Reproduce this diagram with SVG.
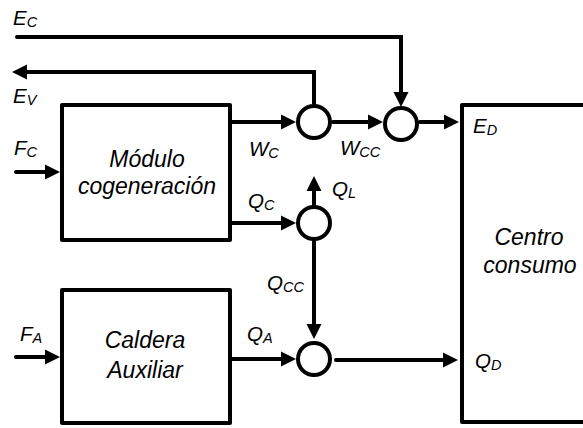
<svg xmlns="http://www.w3.org/2000/svg" width="583" height="428" viewBox="0 0 583 428">
<style>
  .box { fill: #fff; stroke: #000; stroke-width: 4; stroke-linejoin: round; }
  .junc { fill: #fff; stroke: #000; stroke-width: 4; }
  .conn { fill: none; stroke: #000; stroke-width: 4; stroke-linecap: round; stroke-linejoin: miter; marker-end: url(#arr); }
  .lbl { font-family: "Liberation Sans", Arial, sans-serif; font-style: italic; font-size: 20.5px; fill: #000; }
  .sub { font-size: 14.5px; }
  .body { font-family: "Liberation Sans", Arial, sans-serif; font-style: italic; font-size: 23px; fill: #000; text-anchor: middle; }
</style>
<defs>
  <marker id="arr" markerUnits="userSpaceOnUse" markerWidth="16" markerHeight="16" refX="4" refY="7.5" orient="auto" viewBox="0 0 16 15">
    <path d="M0,0 L15,7.5 L0,15 z" fill="#000"/>
  </marker>
</defs>
<rect width="583" height="428" fill="#fff"/>

<g id="connectors">
  <path id="c-ec" class="conn" d="M17,37 H401 V96"/>
  <path id="c-ev" class="conn" d="M314,104 V72 H23"/>
  <path id="c-fc" class="conn" d="M16,172 H49"/>
  <path id="c-wc" class="conn" d="M232,122 H285"/>
  <path id="c-wcc" class="conn" d="M333,122 H372"/>
  <path id="c-ed" class="conn" d="M420,122 H448"/>
  <path id="c-qc" class="conn" d="M232,223 H285"/>
  <path id="c-ql" class="conn" d="M314,205 V187"/>
  <path id="c-qcc" class="conn" d="M314,241 V328"/>
  <path id="c-qa" class="conn" d="M232,359 H285"/>
  <path id="c-qd" class="conn" d="M336,360 H447"/>
  <path id="c-fa" class="conn" d="M16,357 H49"/>
</g>

<g id="modulo">
  <rect class="box" x="62" y="105" width="168" height="135"/>
  <text class="body" x="147" y="167">Módulo</text>
  <text class="body" x="147" y="194">cogeneración</text>
</g>
<g id="caldera">
  <rect class="box" x="62" y="290" width="168" height="133"/>
  <text class="body" x="145" y="348">Caldera</text>
  <text class="body" x="145" y="378">Auxiliar</text>
</g>
<g id="centro">
  <rect class="box" x="462" y="105" width="150" height="317"/>
  <text class="body" x="529" y="245">Centro</text>
  <text class="body" x="530" y="273">consumo</text>
</g>

<g id="junction-w"><circle class="junc" cx="314" cy="122" r="16"/></g>
<g id="junction-e"><circle class="junc" cx="401" cy="124" r="16"/></g>
<g id="junction-qc"><circle class="junc" cx="314" cy="223" r="16"/></g>
<g id="junction-qd"><circle class="junc" cx="314" cy="359" r="16"/></g>

<g id="labels">
  <text class="lbl" x="13" y="25">E<tspan class="sub" dy="2">C</tspan></text>
  <text class="lbl" x="13" y="103">E<tspan class="sub" dy="2">V</tspan></text>
  <text class="lbl" x="14" y="155">F<tspan class="sub" dy="2">C</tspan></text>
  <text class="lbl" x="20" y="341">F<tspan class="sub" dy="2">A</tspan></text>
  <text class="lbl" x="249" y="156">W<tspan class="sub" dy="2">C</tspan></text>
  <text class="lbl" x="340" y="155">W<tspan class="sub" dy="2">CC</tspan></text>
  <text class="lbl" x="248" y="208">Q<tspan class="sub" dy="2">C</tspan></text>
  <text class="lbl" x="332" y="196">Q<tspan class="sub" dy="2">L</tspan></text>
  <text class="lbl" x="267" y="290">Q<tspan class="sub" dy="2">CC</tspan></text>
  <text class="lbl" x="247" y="341">Q<tspan class="sub" dy="2">A</tspan></text>
  <text class="lbl" x="473" y="133">E<tspan class="sub" dy="2">D</tspan></text>
  <text class="lbl" x="475" y="368">Q<tspan class="sub" dy="2">D</tspan></text>
</g>
</svg>
